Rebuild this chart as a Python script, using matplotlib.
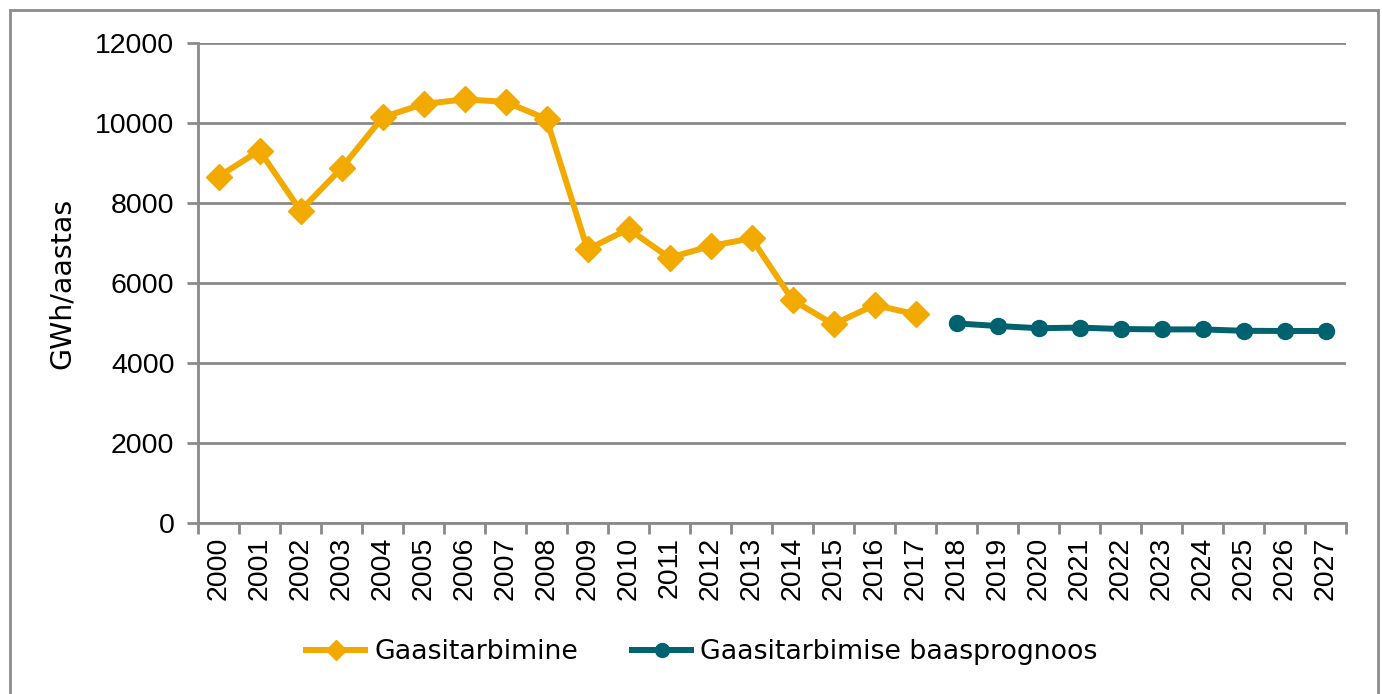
import matplotlib
matplotlib.use("Agg")
import matplotlib.pyplot as plt
from matplotlib.patches import Rectangle
from matplotlib.ticker import MultipleLocator

years = [str(y) for y in range(2000, 2028)]
hist_years = years[:18]
fc_years = years[18:]

# Gaasitarbimine, GWh/aastas
hist_vals = [8660, 9310, 7810, 8870, 10140, 10475, 10590, 10530, 10100,
             6840, 7350, 6630, 6925, 7115, 5575, 4965, 5450, 5220]
# Gaasitarbimise baasprognoos
fc_vals = [4990, 4925, 4870, 4885, 4850, 4840, 4840, 4805, 4800, 4800]

ORANGE = "#F2A900"
TEAL = "#00626F"
GRID = "#8a8a8a"

plt.rcParams["font.family"] = ["Liberation Sans", "DejaVu Sans"]

fig = plt.figure(figsize=(13.82, 6.94), dpi=100)
ax = fig.add_axes([198/1382, 1 - 523/694, (1346-198)/1382, (523-43)/694])

xh = list(range(len(hist_years)))
xf = list(range(len(hist_years), len(years)))
ax.plot(xh, hist_vals, color=ORANGE, lw=4.3, marker="D", ms=13.5,
        label="Gaasitarbimine", zorder=3)
ax.plot(xf, fc_vals, color=TEAL, lw=4.3, marker="o", ms=11.5,
        label="Gaasitarbimise baasprognoos", zorder=3)

ax.set_xlim(-0.5, len(years) - 0.5)
ax.set_ylim(0, 12000)
ax.yaxis.set_major_locator(MultipleLocator(2000))
ax.grid(axis="y", color=GRID, lw=2)
ax.set_axisbelow(True)

ax.set_xticks(range(len(years)))
ax.set_xticklabels(years, rotation=90, fontsize=20.5)
ax.set_xticks([i - 0.5 for i in range(len(years) + 1)], minor=True)
ax.tick_params(axis="x", which="major", length=0, pad=10)
ax.tick_params(axis="x", which="minor", length=8, width=2, color=GRID)
ax.tick_params(axis="y", length=8, width=2, color=GRID, labelsize=20.5, pad=9)

for s in ["top", "right"]:
    ax.spines[s].set_visible(False)
for s in ["left", "bottom"]:
    ax.spines[s].set_color(GRID)
    ax.spines[s].set_linewidth(2)

ax.set_ylabel("GWh/aastas", fontsize=20.5, family="DejaVu Sans", labelpad=14)

leg = fig.legend(loc="center", bbox_to_anchor=(0.508, 1 - 652/694), ncol=2,
                 frameon=False, prop={"family": "DejaVu Sans", "size": 19.3},
                 handlelength=2.2, handletextpad=0.35, columnspacing=2.0)
for h in leg.legend_handles:
    h.set_markersize(10)

fig.add_artist(Rectangle((10/1382, -0.05), (1378-10)/1382, 1 - 10/694 + 0.05,
                         transform=fig.transFigure, fill=False,
                         edgecolor="#8c8c8c", lw=2))

fig.savefig("out.png", dpi=100)
